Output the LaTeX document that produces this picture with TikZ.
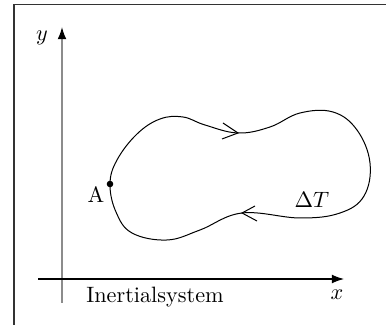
\documentclass[tikz,border=0pt]{standalone}
\usetikzlibrary{arrows.meta}
\begin{document}
\begin{tikzpicture}[x=0.45pt,y=-0.45pt,
  axis/.style={line width=0.5pt,-{Latex[length=5.5pt,width=4pt,color=black,fill=black]}},
  curve/.style={line width=0.45pt},
  chevron/.style={line width=0.45pt},
  lbl/.style={inner sep=0pt}]
\useasboundingbox (0,0) rectangle (386,325);
% frame (cropped)
\draw[line width=0.6pt,black!80] (14,340) -- (14,4.5) -- (400,4.5);
% axes
\coordinate (ybot) at (62,303);
\coordinate (ytop) at (62,27);
\coordinate (xleft) at (38,279);
\coordinate (xright) at (344,279);
\draw[axis,line width=0.7pt,draw=black!45] (ybot) -- (ytop);
\draw[axis] (xleft) -- (xright);
\node[lbl] (ylab) at (42,38) {$y$};
\node[lbl] (xlab) at (337,295) {$x$};
\node[lbl] (sys) at (155,297) {Inertialsystem};
% closed path
\coordinate (A) at (110,184);
\draw[curve] plot[smooth cycle, tension=0.65] coordinates {
  (110,184) (117,160) (137,134) (160,119) (183,117) (205,125)
  (238,133) (270,127) (300,113) (333,112) (357,130) (370,163)
  (364,196) (340,213) (300,218) (242,213) (200,230) (167,240)
  (132,233) (116,212)};
\fill (A) circle (3.3);
\node[lbl] (Alab) at (96,195) {A};
\node[lbl] (dT) at (312,200) {$\Delta T$};
% direction marks
\coordinate (t1) at (238,133);
\coordinate (t2) at (242,213);
\draw[chevron] (223,123) -- (t1) -- (222,139);
\draw[chevron] (255,206) -- (t2) -- (257,221);
\end{tikzpicture}
\end{document}
